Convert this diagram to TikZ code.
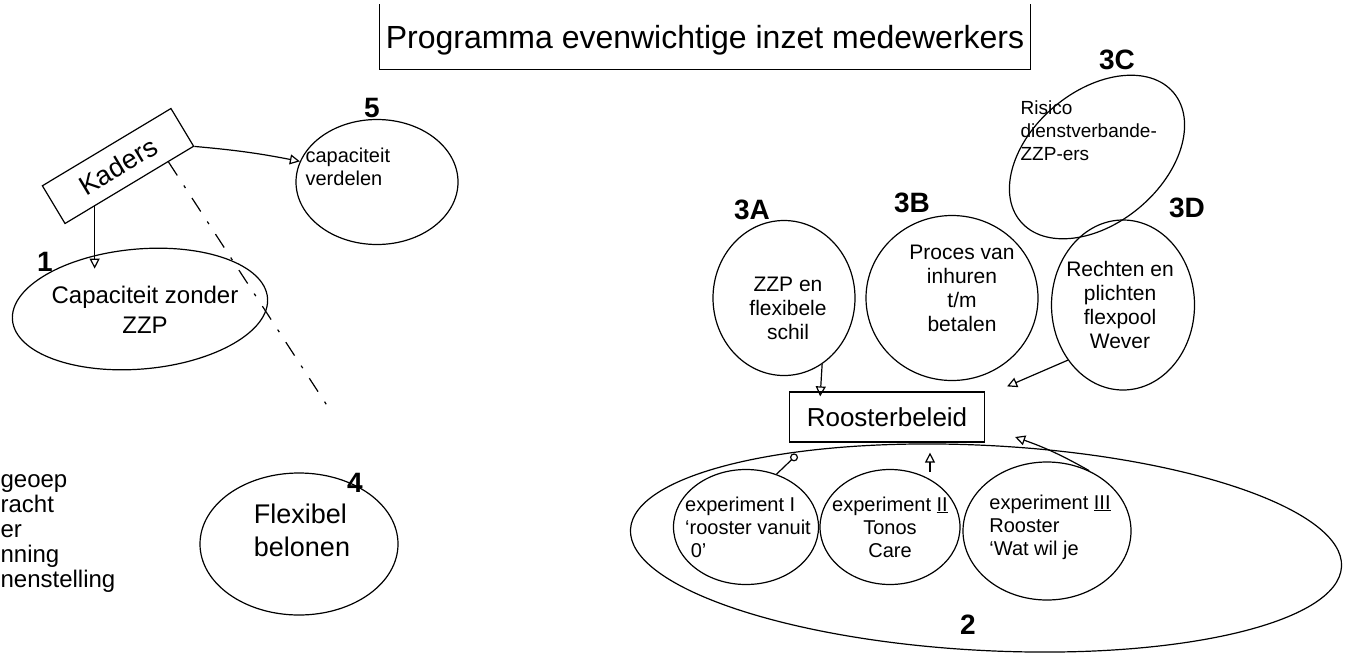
\documentclass[tikz,border=0pt]{standalone}
\usepackage{fontspec}
\setmainfont{Liberation Sans}
\usetikzlibrary{shapes.geometric,arrows.meta,calc}
\begin{document}
\begin{tikzpicture}[x=1pt,y=-1pt, line width=1.2pt,
  blob/.style={draw, ellipse, inner sep=0pt},
  lbl/.style={font=\fontsize{28}{30}\selectfont\bfseries},
  txt/.style={align=center, inner sep=0pt, font=\fontsize{20}{23}\selectfont},
  arr/.style={-{Triangle[open,length=10pt,width=10pt]}}
]
\useasboundingbox (0,0) rectangle (1348,662);

% title
\node[minimum width=650pt, minimum height=58pt, font=\fontsize{32}{34}\selectfont] (title) at (705,40) {Programma evenwichtige inzet medewerkers};
\draw ([yshift=6pt]title.north west) -- (title.south west) -- (title.south east) -- ([yshift=6pt]title.north east);

% Kaders
\node[draw, rotate=31, minimum width=150pt, minimum height=44pt, font=\fontsize{27}{29}\selectfont] (kad) at (118,166) {Kaders};

% 5
\node[blob, minimum width=162pt, minimum height=125pt] (e5) at (377,182) {};
\node[txt, align=left, anchor=north west] (t5) at (305,147) {capaciteit\\verdelen};
\node[lbl] (n5) at (372,108) {5};

% 1
\node[blob, rotate=5, minimum width=256pt, minimum height=120pt] (e1) at (140,309) {};
\node[txt, font=\fontsize{24}{30}\selectfont] (t1) at (145,310) {Capaciteit zonder\\ZZP};
\node[lbl] (n1) at (45,262) {1};

% 4
\node[blob, minimum width=198pt, minimum height=142pt] (e4) at (299,544) {};
\node[txt, align=left, font=\fontsize{27}{33}\selectfont] (t4) at (302,530) {Flexibel\\belonen};
\node[lbl] (n4) at (355,483) {4};

% left fragments
\node[align=left, anchor=north west, inner sep=0pt, font=\fontsize{24}{25}\selectfont] (frag) at (0,474) {geoep\\racht\\er\\nning\\nenstelling};

% connectors left
\coordinate (kd1) at ($(kad.south west)!0.23!(kad.south east)$);
\draw[arr] (kd1) -- ([yshift=-20pt]kd1 |- e1.north);
\draw[arr] (kad.south east) to[bend left=3] (e5.165);
\coordinate (dashend) at (330,410);
\draw[dash pattern=on 16pt off 12pt on 3pt off 12pt] ($(kad.south west)!0.8!(kad.south east)$) -- (dashend);

% 3C
\node[blob, rotate=40, minimum width=200pt, minimum height=132pt] (e3C) at (1097,157) {};
\node[txt, align=left, anchor=north west, font=\fontsize{19}{23}\selectfont] (t3C) at (1020,100) {Risico\\dienstverbande-\\ZZP-ers};
\node[lbl] (n3C) at (1117,60) {3C};

% 3A
\node[blob, minimum width=142pt, minimum height=155pt] (e3A) at (784,298) {};
\node[txt, font=\fontsize{21}{24}\selectfont] (t3A) at (788,308) {ZZP en\\flexibele\\schil};
\node[lbl] (n3A) at (752,210) {3A};

% 3B
\node[blob, minimum width=172pt, minimum height=165pt] (e3B) at (952,298) {};
\node[txt, font=\fontsize{21}{24}\selectfont] (t3B) at (962,288) {Proces van\\inhuren\\t/m\\betalen};
\node[lbl] (n3B) at (912,203) {3B};

% 3D
\node[blob, minimum width=143pt, minimum height=170pt] (e3D) at (1123,305) {};
\node[txt, font=\fontsize{21}{24}\selectfont] (t3D) at (1120,305) {Rechten en\\plichten\\flexpool\\Wever};
\node[lbl] (n3D) at (1187,208) {3D};

% Roosterbeleid
\node[draw, minimum width=195pt, minimum height=50pt, font=\fontsize{26}{28}\selectfont] (roo) at (887,417) {Roosterbeleid};

% 2
\node[blob, rotate=-3, minimum width=712pt, minimum height=205pt] (e2) at (986,548) {};
\node[lbl] (n2) at (968,625) {2};

% experiments
\node[blob, minimum width=145pt, minimum height=115pt] (eI) at (746,527) {};
\node[txt, align=left] (tI) at (748,527) {experiment I\\‘rooster vanuit\\\ 0’};
\node[blob, minimum width=140pt, minimum height=115pt] (eII) at (890,527) {};
\node[txt] (tII) at (890,527) {experiment \underline{II}\\Tonos\\Care};
\node[blob, minimum width=168pt, minimum height=138pt] (eIII) at (1047,531) {};
\node[txt, align=left] (tIII) at (1050,527) {experiment \underline{III}\\Rooster\\‘Wat wil je};

% connectors right
\draw[arr] (e3A.-60) -- ([xshift=-2pt,yshift=-5pt]e3A.-60 |- roo.north);
\draw[arr] (e3D.225) -- ([xshift=22pt,yshift=5pt]roo.north east);
\draw[-{Circle[open,length=8pt,width=8pt]}] (eI.60) -- ([xshift=8pt,yshift=-12pt]roo.south west);
\draw[arr] ([xshift=40pt,yshift=-3pt]eII.north) -- ([xshift=43pt,yshift=-10pt]roo.south);
\draw[arr] (eIII.55) to[bend right=5] ([xshift=30pt,yshift=-20pt]roo.east);
\end{tikzpicture}
\end{document}
